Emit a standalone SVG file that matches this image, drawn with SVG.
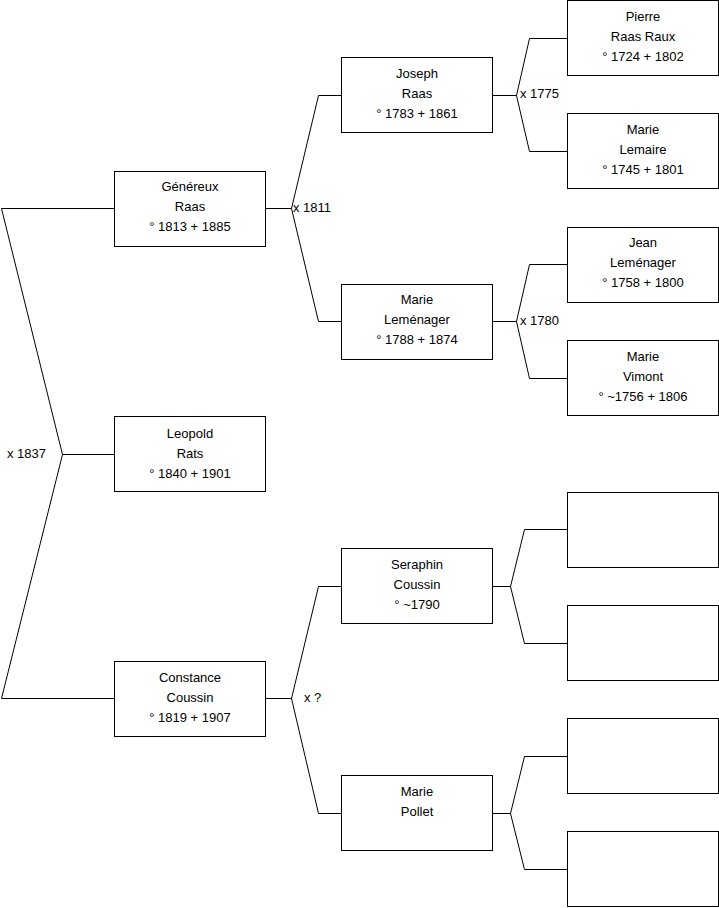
<svg xmlns="http://www.w3.org/2000/svg" width="719" height="908" viewBox="0 0 719 908">
<style>
.box{fill:#fff;stroke:#000;stroke-width:1}
.ln{fill:none;stroke:#000;stroke-width:1}
text{font-family:"Liberation Sans",Arial,sans-serif;font-size:13px;fill:#000}
.c{text-anchor:middle}
</style>
<rect width="719" height="908" fill="#fff"/>
<g id="connectors">
<polyline class="ln" points="114,208.5 1.5,208.5 62.5,454.5 1.5,698.5 114,698.5"/>
<line class="ln" x1="62.5" y1="454.5" x2="114" y2="454.5"/>
<polyline class="ln" points="265,208.5 291.5,208.5"/>
<polyline class="ln" points="341,95.5 318.5,95.5 291.5,208.5 318.5,321.5 341,321.5"/>
<polyline class="ln" points="265,698.5 291.5,698.5"/>
<polyline class="ln" points="341,586.5 318.5,586.5 291.5,698.5 318.5,813.5 341,813.5"/>
<polyline class="ln" points="492,95.5 516.5,95.5"/>
<polyline class="ln" points="567,38.5 529.5,38.5 516.5,95.5 529.5,151.5 567,151.5"/>
<polyline class="ln" points="492,321.5 516.5,321.5"/>
<polyline class="ln" points="567,264.5 529.5,264.5 516.5,321.5 529.5,378.5 567,378.5"/>
<polyline class="ln" points="492,586.5 510.5,586.5"/>
<polyline class="ln" points="567,529.5 524.5,529.5 510.5,586.5 524.5,643.5 567,643.5"/>
<polyline class="ln" points="492,813.5 510.5,813.5"/>
<polyline class="ln" points="567,756.5 524.5,756.5 510.5,813.5 524.5,869.5 567,869.5"/>
<text x="7" y="458">x 1837</text>
<text x="293" y="212">x 1811</text>
<text x="520" y="98">x 1775</text>
<text x="520" y="325">x 1780</text>
<text x="304" y="702">x ?</text>
</g>
<g id="genereux"><rect class="box" x="114.5" y="171.5" width="151" height="75"/>
<text class="c" x="190" y="191">Généreux</text><text class="c" x="190" y="211">Raas</text><text class="c" x="190" y="231">° 1813 + 1885</text></g>
<g id="leopold"><rect class="box" x="114.5" y="416.5" width="151" height="75"/>
<text class="c" x="190" y="438">Leopold</text><text class="c" x="190" y="458">Rats</text><text class="c" x="190" y="478">° 1840 + 1901</text></g>
<g id="constance"><rect class="box" x="114.5" y="661.5" width="151" height="75"/>
<text class="c" x="190" y="682">Constance</text><text class="c" x="190" y="702">Coussin</text><text class="c" x="190" y="722">° 1819 + 1907</text></g>
<g id="joseph"><rect class="box" x="341.5" y="57.5" width="151" height="75"/>
<text class="c" x="417" y="78">Joseph</text><text class="c" x="417" y="98">Raas</text><text class="c" x="417" y="118">° 1783 + 1861</text></g>
<g id="marie-lemenager"><rect class="box" x="341.5" y="284.5" width="151" height="75"/>
<text class="c" x="417" y="304">Marie</text><text class="c" x="417" y="324">Leménager</text><text class="c" x="417" y="344">° 1788 + 1874</text></g>
<g id="seraphin"><rect class="box" x="341.5" y="548.5" width="151" height="75"/>
<text class="c" x="417" y="569">Seraphin</text><text class="c" x="417" y="589">Coussin</text><text class="c" x="417" y="609">° ~1790</text></g>
<g id="marie-pollet"><rect class="box" x="341.5" y="775.5" width="151" height="75"/>
<text class="c" x="417" y="796">Marie</text><text class="c" x="417" y="816">Pollet</text></g>
<g id="pierre"><rect class="box" x="567.5" y="0.5" width="151" height="75"/>
<text class="c" x="643" y="21">Pierre</text><text class="c" x="643" y="41">Raas Raux</text><text class="c" x="643" y="61">° 1724 + 1802</text></g>
<g id="marie-lemaire"><rect class="box" x="567.5" y="113.5" width="151" height="75"/>
<text class="c" x="643" y="134">Marie</text><text class="c" x="643" y="154">Lemaire</text><text class="c" x="643" y="174">° 1745 + 1801</text></g>
<g id="jean"><rect class="box" x="567.5" y="227.5" width="151" height="75"/>
<text class="c" x="643" y="247">Jean</text><text class="c" x="643" y="267">Leménager</text><text class="c" x="643" y="287">° 1758 + 1800</text></g>
<g id="marie-vimont"><rect class="box" x="567.5" y="340.5" width="151" height="75"/>
<text class="c" x="643" y="361">Marie</text><text class="c" x="643" y="381">Vimont</text><text class="c" x="643" y="401">° ~1756 + 1806</text></g>
<g id="empty1"><rect class="box" x="567.5" y="492.5" width="151" height="75"/></g>
<g id="empty2"><rect class="box" x="567.5" y="605.5" width="151" height="75"/></g>
<g id="empty3"><rect class="box" x="567.5" y="718.5" width="151" height="75"/></g>
<g id="empty4"><rect class="box" x="567.5" y="831.5" width="151" height="75"/></g>
</svg>
